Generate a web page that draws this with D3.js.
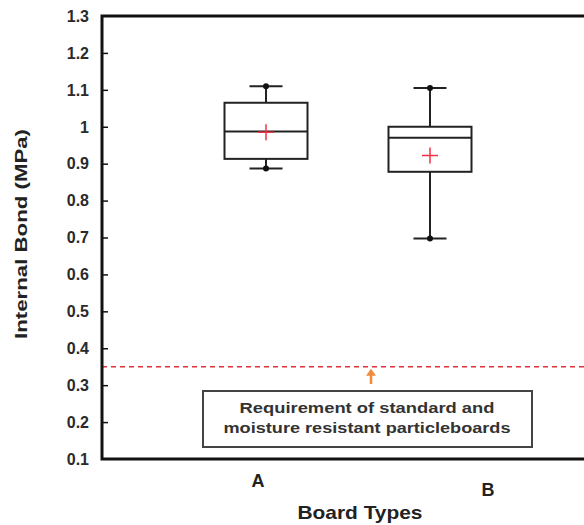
<!DOCTYPE html>
<html>
<head>
<meta charset="utf-8">
<script src="https://cdn.jsdelivr.net/npm/d3@7"></script>
<style>
  html, body { margin: 0; padding: 0; background: #fff; }
  svg { display: block; font-family: "Liberation Sans", Arial, sans-serif; }
</style>
</head>
<body>
<svg id="chart" width="584" height="525"></svg>
<script>
// Internal bond strength of two particleboard types
const categories = ["A", "B"];
const whiskerHigh = [1.11, 1.105];
const upperQuartile = [1.065, 1.0];
const medians = [0.987, 0.97];
const lowerQuartile = [0.913, 0.878];
const whiskerLow = [0.887, 0.697];
const means = [0.985, 0.922];

const tickValues = [0.1, 0.2, 0.3, 0.4, 0.5, 0.6, 0.7, 0.8, 0.9, 1.0, 1.1, 1.2, 1.3];
const tickLabels = ["0.1", "0.2", "0.3", "0.4", "0.5", "0.6", "0.7", "0.8", "0.9", "1", "1.1", "1.2", "1.3"];

const requirementValue = 0.35;
const requirementText = ["Requirement of standard and", "moisture resistant particleboards"];
const xTitle = "Board Types";
const yTitle = "Internal Bond (MPa)";

const svg = d3.select("#chart");

const plot = { left: 102, right: 600, top: 16, bottom: 459 };

const y = d3.scaleLinear().domain([0.1, 1.3]).range([plot.bottom, plot.top]);
const x = d3.scalePoint().domain(categories).range([266, 430]);

const boxWidth = 83;
const capWidth = 33;

// dashed requirement line
svg.append("line")
  .attr("x1", plot.left).attr("x2", plot.right)
  .attr("y1", y(requirementValue)).attr("y2", y(requirementValue))
  .attr("stroke", "#e0303a").attr("stroke-width", 1.5)
  .attr("stroke-dasharray", "5,4");

// y axis with inward ticks
const yAxis = d3.axisRight(y)
  .tickValues(tickValues.slice(1, -1))
  .tickSize(6)
  .tickFormat("");
const ax = svg.append("g").attr("transform", `translate(${plot.left},0)`).call(yAxis);
ax.select(".domain").remove();
ax.selectAll(".tick line").attr("stroke", "#111").attr("stroke-width", 1.5);

// tick labels
svg.append("g").selectAll("text")
  .data(tickValues)
  .join("text")
  .attr("x", 89)
  .attr("y", d => y(d))
  .attr("dy", "0.36em")
  .attr("text-anchor", "end")
  .attr("font-size", 16)
  .attr("font-weight", "bold")
  .attr("fill", "#2a2a2a")
  .text((d, i) => tickLabels[i]);

// frame: left, top and bottom lines
svg.append("path")
  .attr("d", `M${plot.right},${plot.top}H${plot.left}V${plot.bottom}H${plot.right}`)
  .attr("fill", "none").attr("stroke", "#111").attr("stroke-width", 3);

// box plots
const boxes = svg.append("g").selectAll("g")
  .data(categories)
  .join("g");

boxes.append("line")
  .attr("x1", d => x(d)).attr("x2", d => x(d))
  .attr("y1", (d, i) => y(whiskerHigh[i]))
  .attr("y2", (d, i) => y(upperQuartile[i]))
  .attr("stroke", "#222").attr("stroke-width", 2);
boxes.append("line")
  .attr("x1", d => x(d)).attr("x2", d => x(d))
  .attr("y1", (d, i) => y(lowerQuartile[i]))
  .attr("y2", (d, i) => y(whiskerLow[i]))
  .attr("stroke", "#222").attr("stroke-width", 2);

[whiskerHigh, whiskerLow].forEach(arr => {
  boxes.append("line")
    .attr("x1", d => x(d) - capWidth / 2).attr("x2", d => x(d) + capWidth / 2)
    .attr("y1", (d, i) => y(arr[i])).attr("y2", (d, i) => y(arr[i]))
    .attr("stroke", "#222").attr("stroke-width", 2);
  boxes.append("circle")
    .attr("cx", d => x(d)).attr("cy", (d, i) => y(arr[i]))
    .attr("r", 3).attr("fill", "#111");
});

boxes.append("rect")
  .attr("x", d => x(d) - boxWidth / 2)
  .attr("y", (d, i) => y(upperQuartile[i]))
  .attr("width", boxWidth)
  .attr("height", (d, i) => y(lowerQuartile[i]) - y(upperQuartile[i]))
  .attr("fill", "#fff").attr("stroke", "#222").attr("stroke-width", 2);

boxes.append("line")
  .attr("x1", d => x(d) - boxWidth / 2).attr("x2", d => x(d) + boxWidth / 2)
  .attr("y1", (d, i) => y(medians[i])).attr("y2", (d, i) => y(medians[i]))
  .attr("stroke", "#222").attr("stroke-width", 2);

// mean markers
boxes.append("path")
  .attr("d", (d, i) => {
    const cx = x(d), cy = y(means[i]);
    return `M${cx - 8},${cy}H${cx + 8}M${cx},${cy - 8}V${cy + 8}`;
  })
  .attr("stroke", "#ee3344").attr("stroke-width", 1.5).attr("fill", "none");

// requirement annotation
const noteBox = { x: 203, y: 391, w: 329, h: 56 };
svg.append("rect")
  .attr("x", noteBox.x).attr("y", noteBox.y)
  .attr("width", noteBox.w).attr("height", noteBox.h)
  .attr("fill", "#fff").attr("stroke", "#444").attr("stroke-width", 2);

const noteWidths = [255, 287];
svg.append("g").selectAll("text")
  .data(requirementText)
  .join("text")
  .attr("x", 367)
  .attr("y", (d, i) => 413 + i * 20)
  .attr("text-anchor", "middle")
  .attr("font-size", 15)
  .attr("font-weight", "bold")
  .attr("fill", "#333")
  .attr("textLength", (d, i) => noteWidths[i])
  .attr("lengthAdjust", "spacingAndGlyphs")
  .text(d => d);

// orange arrow pointing up to the requirement line
const arrowX = 371;
svg.append("line")
  .attr("x1", arrowX).attr("x2", arrowX)
  .attr("y1", 384).attr("y2", y(requirementValue) + 6)
  .attr("stroke", "#f08a3c").attr("stroke-width", 2.5);
svg.append("path")
  .attr("d", `M${arrowX - 5},${y(requirementValue) + 9}L${arrowX},${y(requirementValue) + 2}L${arrowX + 5},${y(requirementValue) + 9}Z`)
  .attr("fill", "#f08a3c");

// category labels
const labelOffsets = [{ dx: -8, y: 487 }, { dx: 58, y: 496 }];
svg.append("g").selectAll("text")
  .data(categories)
  .join("text")
  .attr("x", (d, i) => x(d) + labelOffsets[i].dx)
  .attr("y", (d, i) => labelOffsets[i].y)
  .attr("text-anchor", "middle")
  .attr("font-size", 18)
  .attr("font-weight", "bold")
  .attr("fill", "#222")
  .text(d => d);

// axis titles
svg.append("text")
  .attr("x", 360).attr("y", 519)
  .attr("text-anchor", "middle")
  .attr("font-size", 19)
  .attr("font-weight", "bold")
  .attr("fill", "#222")
  .attr("textLength", 125)
  .attr("lengthAdjust", "spacingAndGlyphs")
  .text(xTitle);

svg.append("text")
  .attr("transform", "translate(27,234) rotate(-90)")
  .attr("text-anchor", "middle")
  .attr("font-size", 17)
  .attr("font-weight", "bold")
  .attr("fill", "#222")
  .attr("textLength", 210)
  .attr("lengthAdjust", "spacingAndGlyphs")
  .text(yTitle);
</script>
</body>
</html>
